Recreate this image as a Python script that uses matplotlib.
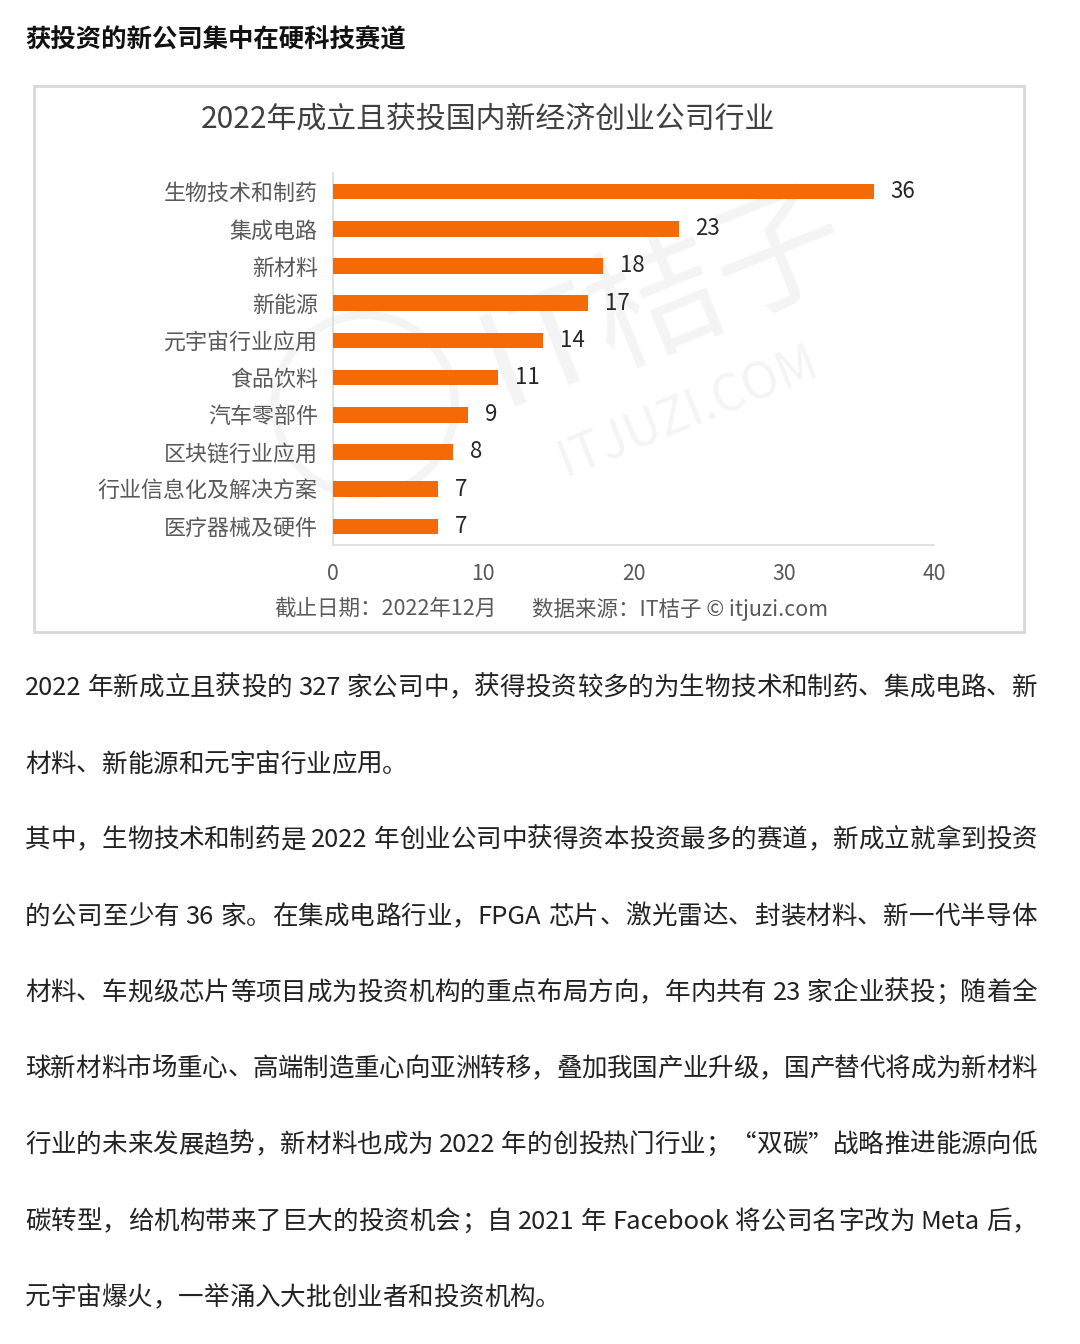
import re
import matplotlib
matplotlib.use("Agg")
import matplotlib.pyplot as plt
from matplotlib.patches import Rectangle, Ellipse

FAM = ['Noto Sans CJK SC', 'DejaVu Sans']
plt.rcParams['font.family'] = FAM

# ---------------- data ----------------
categories = ["生物技术和制药", "集成电路", "新材料", "新能源", "元宇宙行业应用",
              "食品饮料", "汽车零部件", "区块链行业应用", "行业信息化及解决方案", "医疗器械及硬件"]
values = [36, 23, 18, 17, 14, 11, 9, 8, 7, 7]
xticks = [0, 10, 20, 30, 40]

heading = "获投资的新公司集中在硬科技赛道"
chart_title = "2022年成立且获投国内新经济创业公司行业"
note_date = "截止日期：2022年12月"
note_source = "数据来源：IT桔子 © itjuzi.com"

body_lines = [
    ("2022 年新成立且获投的 327 家公司中，获得投资较多的为生物技术和制药、集成电路、新", True),
    ("材料、新能源和元宇宙行业应用。", False),
    ("其中，生物技术和制药是 2022 年创业公司中获得资本投资最多的赛道，新成立就拿到投资", True),
    ("的公司至少有 36 家。在集成电路行业，FPGA 芯片、激光雷达、封装材料、新一代半导体", True),
    ("材料、车规级芯片等项目成为投资机构的重点布局方向，年内共有 23 家企业获投；随着全", True),
    ("球新材料市场重心、高端制造重心向亚洲转移，叠加我国产业升级，国产替代将成为新材料", True),
    ("行业的未来发展趋势，新材料也成为 2022 年的创投热门行业；“双碳”战略推进能源向低", True),
    ("碳转型，给机构带来了巨大的投资机会；自 2021 年 Facebook 将公司名字改为 Meta 后，", True),
    ("元宇宙爆火，一举涌入大批创业者和投资机构。", False),
]
body_y = [688, 765, 840, 917, 993, 1069, 1145, 1222, 1298]

# ---------------- figure ----------------
W, H = 1080, 1344
fig = plt.figure(figsize=(W / 100, H / 100), dpi=100)
fig.patch.set_facecolor("white")


def fx(x):
    return x / W


def fy(y):
    return 1 - y / H


# heading
fig.text(fx(25), fy(40), heading, fontsize=18.3, fontweight="bold", color="#111111",
         ha="left", va="center", family=FAM)

# chart box
fig.patches.append(Rectangle((fx(34), fy(632)), fx(1024) - fx(34), fy(86) - fy(632),
                             transform=fig.transFigure, facecolor="none",
                             edgecolor="#d8d8d8", linewidth=2, zorder=-2))

# chart title
fig.text(fx(488), fy(119), chart_title, fontsize=21.5, color="#404040",
         ha="center", va="center", family=FAM)

# watermark (faint)
wm = "#f4f4f4"
fig.text(fx(665), fy(300), "IT桔子", fontsize=95, color=wm, rotation=22,
         ha="center", va="center", family=FAM, zorder=-1)
fig.text(fx(688), fy(412), "ITJUZI.COM", fontsize=36, color=wm, rotation=22,
         ha="center", va="center", family=FAM, zorder=-1)
fig.patches.append(Ellipse((fx(365), fy(405)), 180 / W, 180 / H, transform=fig.transFigure,
                           fill=False, edgecolor=wm, linewidth=6, zorder=-1))

# axes
ax_left, ax_right, ax_top, ax_bot = 333, 934, 173, 545
ax = fig.add_axes([fx(ax_left), fy(ax_bot), (ax_right - ax_left) / W, (ax_bot - ax_top) / H])
ax.set_zorder(1)
ax.patch.set_alpha(0)
ypos = list(range(len(categories)))
ax.barh(ypos, values, height=0.42, color="#F46A06", zorder=3)
ax.set_ylim(len(categories) - 0.5, -0.5)
ax.set_xlim(0, 40)
ax.set_yticks(ypos)
ax.set_yticklabels(categories, fontsize=15.8, color="#595959", family=FAM)
ax.set_xticks(xticks)
ax.set_xticklabels([str(t) for t in xticks], fontsize=15.3, color="#595959", family=FAM)
ax.tick_params(axis="y", length=0, pad=11)
ax.tick_params(axis="x", length=0, pad=13)
for s in ["top", "right"]:
    ax.spines[s].set_visible(False)
for s in ["left", "bottom"]:
    ax.spines[s].set_color("#dedede")
    ax.spines[s].set_linewidth(1.3)
for yv, v in zip(ypos, values):
    ax.annotate(str(v), (v, yv), xytext=(12, 0), textcoords="offset points",
                ha="left", va="center", fontsize=16, color="#262626", family=FAM)

# source note
fig.text(fx(274), fy(609), note_date, fontsize=15.5, color="#595959", ha="left", va="center", family=FAM)
fig.text(fx(532), fy(609), note_source, fontsize=15.5, color="#595959", ha="left", va="center", family=FAM)

# body text with justification
renderer = fig.canvas.get_renderer()
LEFT, RIGHT = 25, 1037
BODY_FS = 18.4
BODY_COLOR = "#222222"


def measure(s):
    t = fig.text(0, 0, s, fontsize=BODY_FS, family=FAM)
    w = t.get_window_extent(renderer).width
    t.remove()
    return w


space_w = measure("a a") - measure("aa")

for (line, justify), yc in zip(body_lines, body_y):
    toks = re.findall(r"[A-Za-z0-9.]+| |.", line)
    widths = [space_w if tk == " " else measure(tk) for tk in toks]
    total = sum(widths)
    gap = (RIGHT - LEFT - total) / (len(toks) - 1) if justify and len(toks) > 1 else 0
    x = LEFT
    for tk, w in zip(toks, widths):
        if tk != " ":
            fig.text(fx(x), fy(yc), tk, fontsize=BODY_FS, color=BODY_COLOR,
                     ha="left", va="center", family=FAM)
        x += w + gap

fig.savefig("out.png", dpi=100, facecolor="white")
